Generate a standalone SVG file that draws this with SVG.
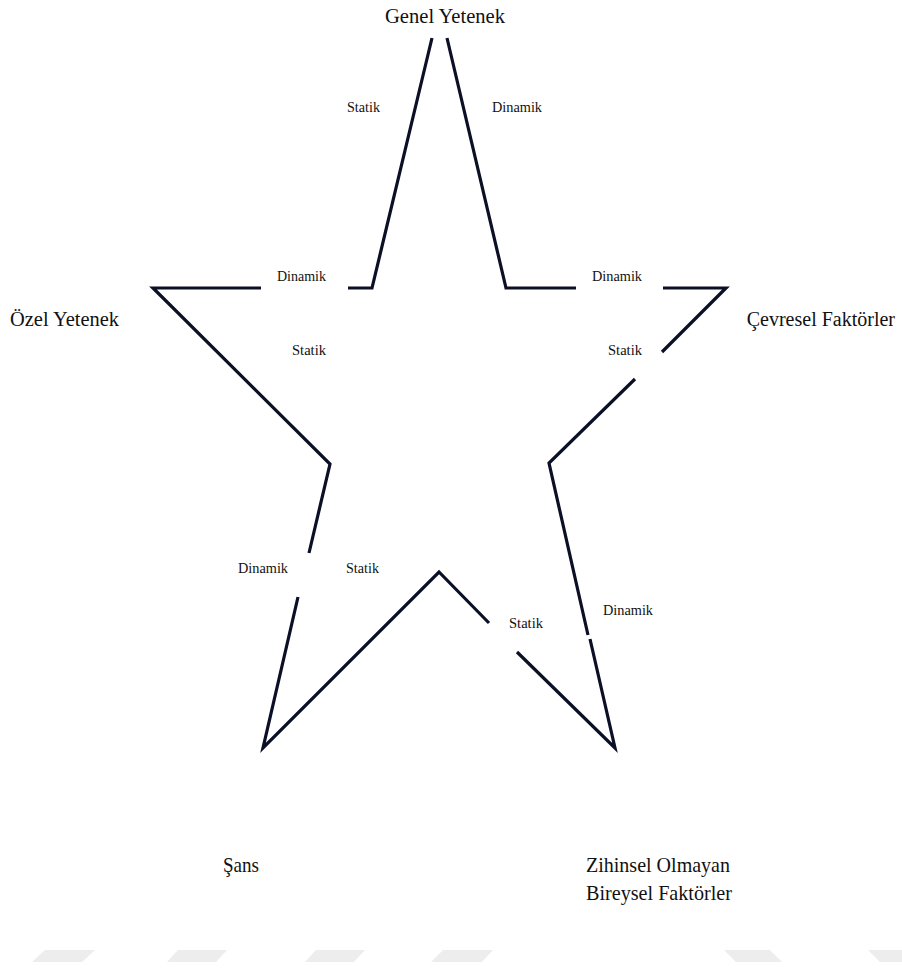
<svg xmlns="http://www.w3.org/2000/svg" width="902" height="972" viewBox="0 0 902 972">
<style>
.edge{fill:none;stroke:#0b1026;stroke-width:3.2;stroke-linejoin:miter;stroke-linecap:butt}
.big{font-family:"Liberation Serif","Times New Roman",serif;font-size:22px;fill:#111}
.small{font-family:"Liberation Serif","Times New Roman",serif;font-size:15px;fill:#111}
.wm{fill:#ededed}
</style>
<rect width="902" height="972" fill="#ffffff"/>
<g id="watermark">
<polygon class="wm" points="45,950 95,950 82,962 32,962"/>
<polygon class="wm" points="178,950 227,950 216,962 167,962"/>
<polygon class="wm" points="316,950 365,950 354,962 305,962"/>
<polygon class="wm" points="443,950 493,950 482,962 431,962"/>
<polygon class="wm" points="724,950 770,950 782,962 736,962"/>
<polygon class="wm" points="868,950 902,950 902,962 880,962"/>
</g>
<g id="connectors">
<polyline class="edge" points="432,38 372,288 348,288"/>
<polyline class="edge" points="261,288 153,288 330,464 309,553"/>
<polyline class="edge" points="298,597 263,748 439,572 489,623"/>
<polyline class="edge" points="517,652 615,748 590,639"/>
<polyline class="edge" points="588,635 549,463 635,379"/>
<polyline class="edge" points="662,352 726,288 663,288"/>
<polyline class="edge" points="576,288 506,288 447,38"/>
</g>
<g id="edge-labels">
<text class="small" x="347" y="112" textLength="33" lengthAdjust="spacingAndGlyphs">Statik</text>
<text class="small" x="492" y="112" textLength="50" lengthAdjust="spacingAndGlyphs">Dinamik</text>
<text class="small" x="277" y="281" textLength="49" lengthAdjust="spacingAndGlyphs">Dinamik</text>
<text class="small" x="592" y="281" textLength="50" lengthAdjust="spacingAndGlyphs">Dinamik</text>
<text class="small" x="292" y="355" textLength="34" lengthAdjust="spacingAndGlyphs">Statik</text>
<text class="small" x="608" y="355" textLength="34" lengthAdjust="spacingAndGlyphs">Statik</text>
<text class="small" x="238" y="573" textLength="50" lengthAdjust="spacingAndGlyphs">Dinamik</text>
<text class="small" x="346" y="573" textLength="33" lengthAdjust="spacingAndGlyphs">Statik</text>
<text class="small" x="603" y="615" textLength="50" lengthAdjust="spacingAndGlyphs">Dinamik</text>
<text class="small" x="509" y="628" textLength="34" lengthAdjust="spacingAndGlyphs">Statik</text>
</g>
<g id="node-genel">
<text class="big" x="385" y="23" textLength="120" lengthAdjust="spacingAndGlyphs">Genel Yetenek</text>
</g>
<g id="node-ozel">
<text class="big" x="10" y="326" textLength="109" lengthAdjust="spacingAndGlyphs">Özel Yetenek</text>
</g>
<g id="node-cevresel">
<text class="big" x="895" y="326" style="font-size:20px" text-anchor="end">Çevresel Faktörler</text>
</g>
<g id="node-sans">
<text class="big" x="223" y="872" textLength="36" lengthAdjust="spacingAndGlyphs">Şans</text>
</g>
<g id="node-zihinsel">
<text class="big" x="586" y="872" textLength="144" lengthAdjust="spacingAndGlyphs">Zihinsel Olmayan</text>
<text class="big" x="586" y="900" textLength="146" lengthAdjust="spacingAndGlyphs">Bireysel Faktörler</text>
</g>
</svg>
